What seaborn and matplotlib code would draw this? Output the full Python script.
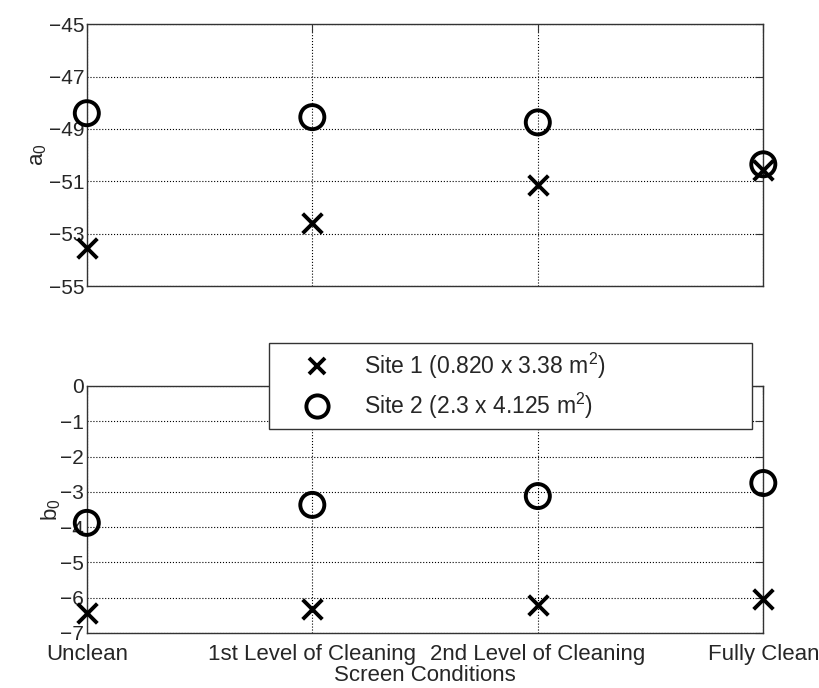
import numpy as np
import matplotlib
matplotlib.use("Agg")
import matplotlib.pyplot as plt
from matplotlib.lines import Line2D
import pandas as pd
import seaborn as sns

# values
conditions = ["Unclean", "1st Level of Cleaning", "2nd Level of Cleaning", "Fully Clean"]
a0_site1 = [-53.55, -52.6, -51.15, -50.55]
a0_site2 = [-48.4, -48.55, -48.75, -50.35]
b0_site1 = [-6.43, -6.32, -6.2, -6.03]
b0_site2 = [-3.88, -3.37, -3.12, -2.75]
site_labels = ["Site 1 (0.820 x 3.38 m$^2$)", "Site 2 (2.3 x 4.125 m$^2$)"]

pos = np.arange(len(conditions))
df = pd.DataFrame({
    "pos": np.tile(pos, 2),
    "site": np.repeat(["Site 1", "Site 2"], len(conditions)),
    "a0": a0_site1 + a0_site2,
    "b0": b0_site1 + b0_site2,
})

sns.set_style("white")
plt.rcParams["font.family"] = ["Liberation Sans", "DejaVu Sans"]
plt.rcParams["mathtext.default"] = "regular"

fig = plt.figure(figsize=(8.19, 6.88), dpi=100)
ax1 = fig.add_axes([0.106, 0.584, 0.826, 0.381])
ax2 = fig.add_axes([0.106, 0.080, 0.826, 0.359])


def draw(ax, col):
    s1 = df[df["site"] == "Site 1"]
    s2 = df[df["site"] == "Site 2"]
    sns.scatterplot(data=s1, x="pos", y=col, marker="x", s=200, color="black",
                    linewidth=2.8, ax=ax, clip_on=False, zorder=5, legend=False)
    sns.scatterplot(data=s2, x="pos", y=col, marker="o", s=300, facecolor="none",
                    edgecolor="black", linewidth=2.8, ax=ax, clip_on=False,
                    zorder=5, legend=False)
    ax.set_xlim(0, 3)
    ax.set_xticks(pos)
    ax.grid(True, color="black", linestyle=":", linewidth=0.8)
    ax.tick_params(direction="in", length=6, color="#333333", top=True, right=True)
    for sp in ax.spines.values():
        sp.set_color("#333333")
        sp.set_linewidth(1.0)
    ax.set_xlabel("")


draw(ax1, "a0")
ax1.set_ylim(-55, -45)
ax1.set_yticks(np.arange(-55, -44, 2))
ax1.set_xticklabels([])
ax1.tick_params(axis="y", labelsize=15, pad=2)
ax1.set_ylabel("a$_0$", fontsize=16, labelpad=0)

draw(ax2, "b0")
ax2.set_ylim(-7, 0)
ax2.set_yticks(np.arange(-7, 1, 1))
ax2.set_xticklabels(conditions, fontsize=16)
ax2.tick_params(axis="y", labelsize=15, pad=2)
ax2.tick_params(axis="x", pad=8)
ax2.set_ylabel("b$_0$", fontsize=16, labelpad=-2)
ax2.set_xlabel("Screen Conditions", fontsize=16, labelpad=0)

handles = [
    Line2D([], [], marker="x", linestyle="none", color="black", markersize=12, markeredgewidth=2.8),
    Line2D([], [], marker="o", linestyle="none", markerfacecolor="none", markeredgecolor="black",
           markersize=16, markeredgewidth=2.8),
]
leg = fig.legend(handles, site_labels, loc="upper left", bbox_to_anchor=(0.328, 0.502, 0.59, 0.0),
                 mode="expand", fontsize=16.5, frameon=True, fancybox=False, edgecolor="#333333",
                 framealpha=1, borderpad=0.35, labelspacing=0.45, handletextpad=0.3,
                 borderaxespad=0, handlelength=3.5)
leg.get_frame().set_linewidth(1.0)
leg.set_zorder(10)

fig.savefig("out.png", dpi=100, facecolor="white")
